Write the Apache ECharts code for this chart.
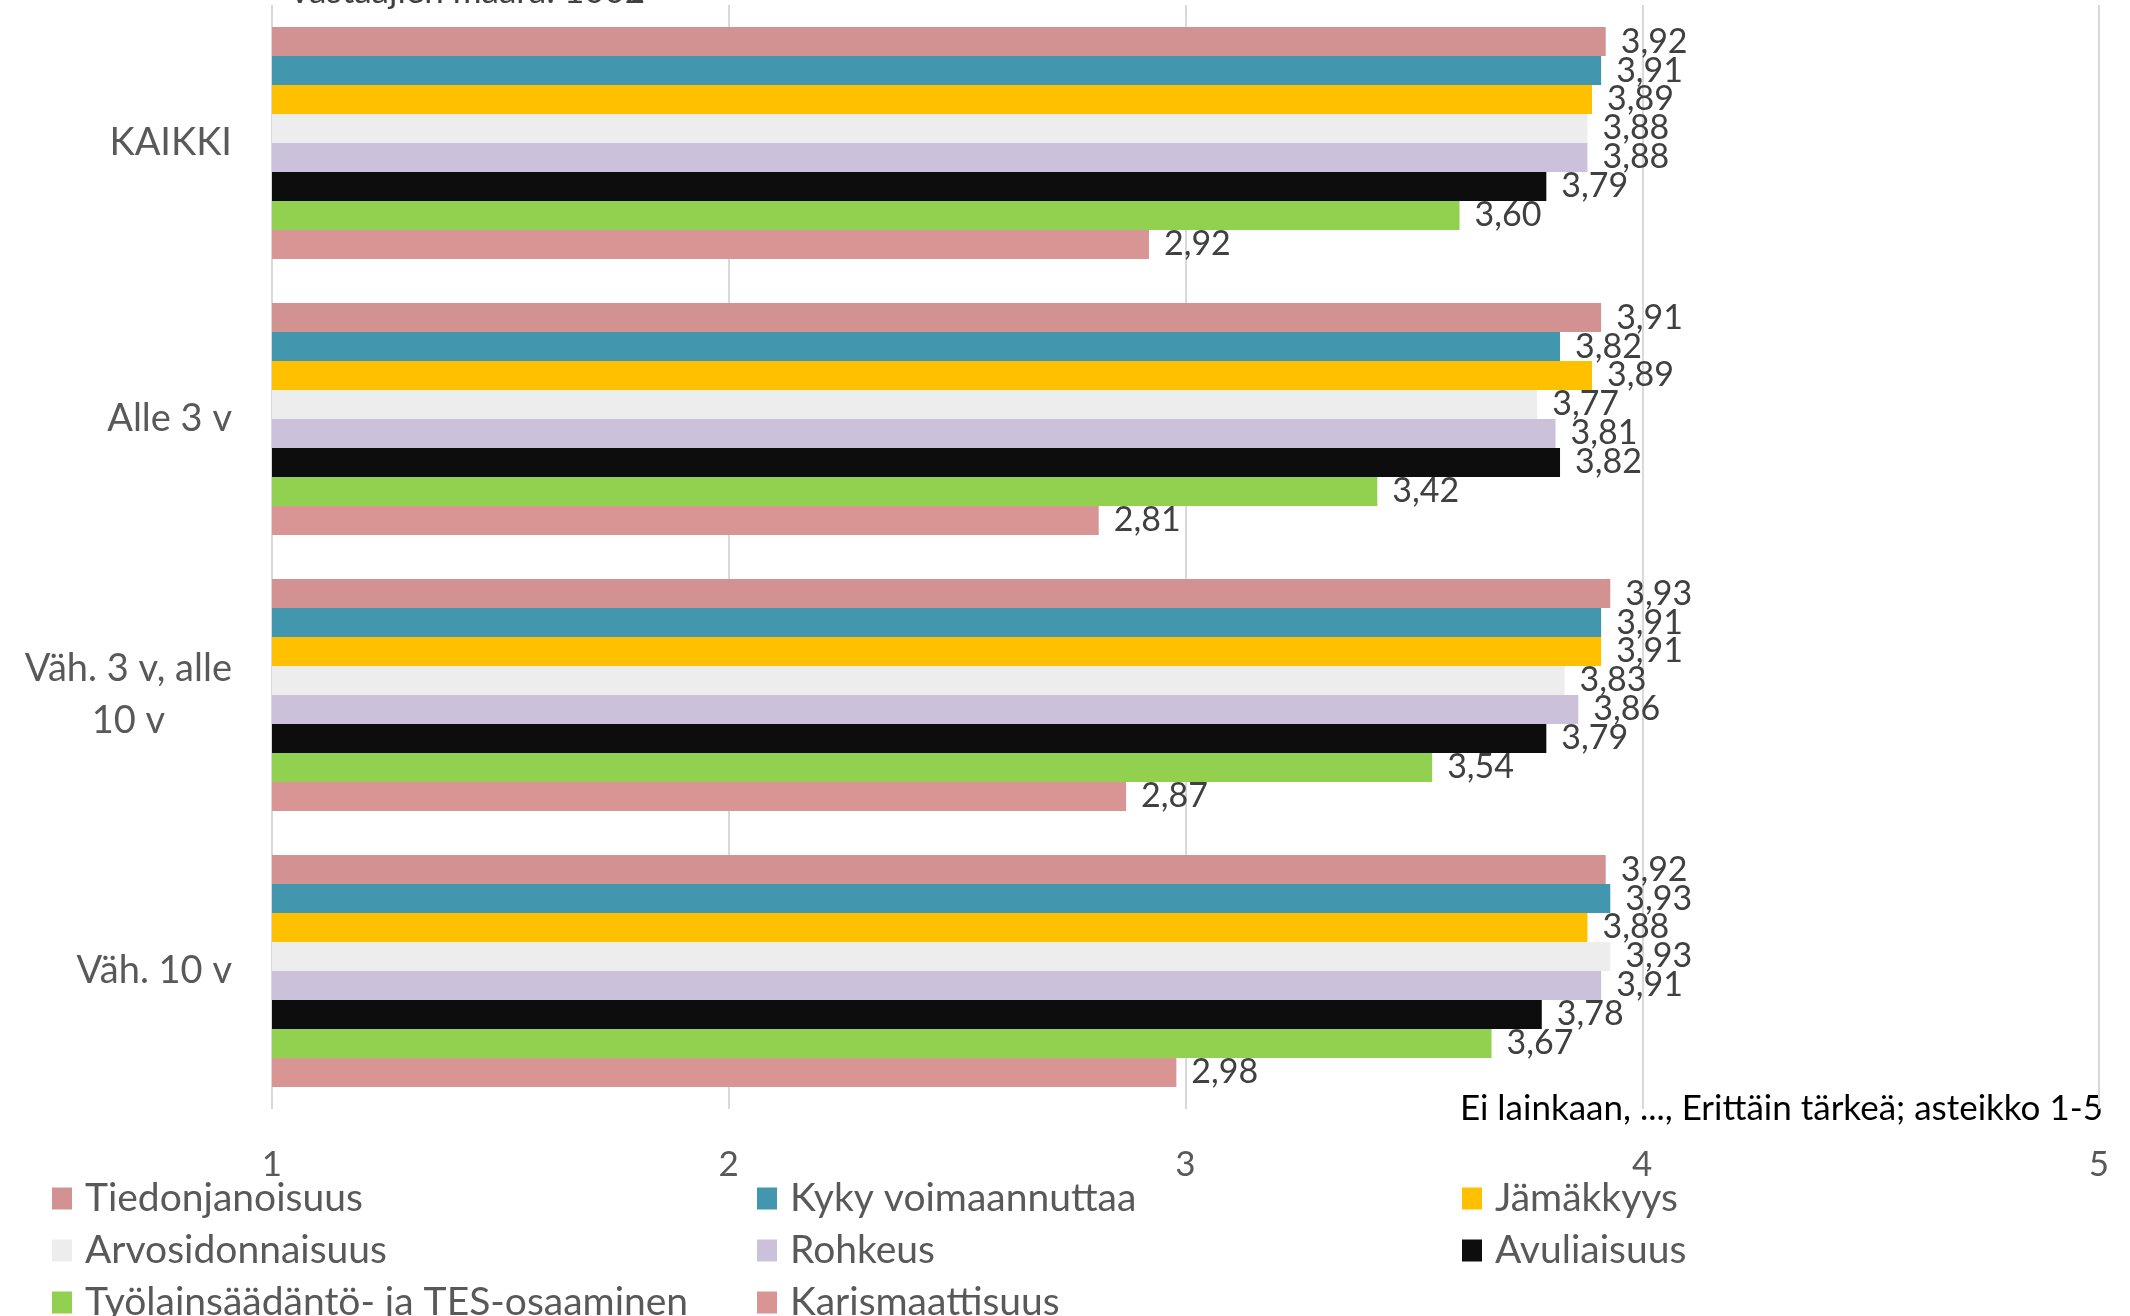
<!DOCTYPE html>
<html>
<head>
<meta charset="utf-8">
<script src="https://cdn.jsdelivr.net/npm/echarts@6/dist/echarts.min.js"></script>
<style>
  html, body { margin: 0; padding: 0; background: #fff; }
  #chart { width: 2130px; height: 1316px; }
</style>
</head>
<body>
<div id="chart"></div>
<script>
var categories = ['KAIKKI', 'Alle 3 v', 'Väh. 3 v, alle 10 v', 'Väh. 10 v'];
var seriesNames = ['Tiedonjanoisuus', 'Kyky voimaannuttaa', 'Jämäkkyys', 'Arvosidonnaisuus',
  'Rohkeus', 'Avuliaisuus', 'Työlainsäädäntö- ja TES-osaaminen', 'Karismaattisuus'];
var colors = ['#D39292', '#4297AF', '#FFC000', '#EDEDED', '#CBC1DA', '#0D0D0D', '#92D050', '#D99594'];

var tiedonjanoisuus = [3.92, 3.91, 3.93, 3.92];
var kykyVoimaannuttaa = [3.91, 3.82, 3.91, 3.93];
var jamakkyys = [3.89, 3.89, 3.91, 3.88];
var arvosidonnaisuus = [3.88, 3.77, 3.83, 3.93];
var rohkeus = [3.88, 3.81, 3.86, 3.91];
var avuliaisuus = [3.79, 3.82, 3.79, 3.78];
var tyolainsaadanto = [3.60, 3.42, 3.54, 3.67];
var karismaattisuus = [2.92, 2.81, 2.87, 2.98];
var values = [tiedonjanoisuus, kykyVoimaannuttaa, jamakkyys, arvosidonnaisuus,
  rohkeus, avuliaisuus, tyolainsaadanto, karismaattisuus];

var FONT = 'Lato';

var chart = echarts.init(document.getElementById('chart'));

var series = seriesNames.map(function (name, i) {
  return {
    name: name,
    type: 'bar',
    data: values[i],
    barGap: '0%',
    barCategoryGap: '16%',
    itemStyle: { color: colors[i] },
    label: {
      show: true,
      position: 'right',
      distance: 15,
      fontFamily: FONT,
      fontSize: 34,
      color: '#404040',
      padding: [6, 0, 0, 0],
      formatter: function (p) { return p.value.toFixed(2).replace('.', ','); }
    }
  };
});

// legend laid out in a 3-column grid, one legend box per item
var legendCols = [52, 757, 1462];
var legendRows = [1190, 1242, 1294];
var legends = seriesNames.map(function (name, i) {
  return {
    left: legendCols[i % 3],
    top: legendRows[Math.floor(i / 3)] - 11,
    padding: 0,
    itemWidth: 20,
    itemHeight: 22,
    icon: 'rect',
    data: [name],
    textStyle: { fontFamily: FONT, fontSize: 39, lineHeight: 22, color: '#595959', padding: [0, 0, 0, 8] }
  };
});

chart.setOption({
  animation: false,
  grid: { left: 272, right: 31, top: 5, bottom: 207, containLabel: false },
  xAxis: {
    type: 'value',
    min: 1,
    max: 5,
    interval: 1,
    axisLine: { show: false },
    axisTick: { show: false },
    splitLine: { lineStyle: { color: '#D9D9D9', width: 2 } },
    axisLabel: { fontFamily: FONT, fontSize: 35, color: '#595959', margin: 38 }
  },
  yAxis: {
    type: 'category',
    inverse: true,
    data: categories,
    axisLine: { show: false },
    axisTick: { show: false },
    axisLabel: {
      margin: 40,
      align: 'right',
      formatter: function (v) {
        if (v === 'Väh. 3 v, alle 10 v') return '{c|Väh. 3 v, alle}\n{c|10 v}';
        return '{c|' + v + '}';
      },
      rich: {
        c: { fontFamily: FONT, fontSize: 38, color: '#595959', align: 'center', lineHeight: 52 }
      }
    }
  },
  legend: legends,
  graphic: [
    {
      type: 'text',
      left: 288,
      top: -26,
      style: { text: 'Vastaajien määrä: 1002', fontFamily: FONT, fontSize: 35, fill: '#404040' }
    },
    {
      type: 'text',
      right: 27,
      top: 1091,
      style: { text: 'Ei lainkaan, ..., Erittäin tärkeä; asteikko 1-5', fontFamily: FONT, fontSize: 35, fill: '#000000' }
    }
  ],
  series: series
});
</script>
</body>
</html>
